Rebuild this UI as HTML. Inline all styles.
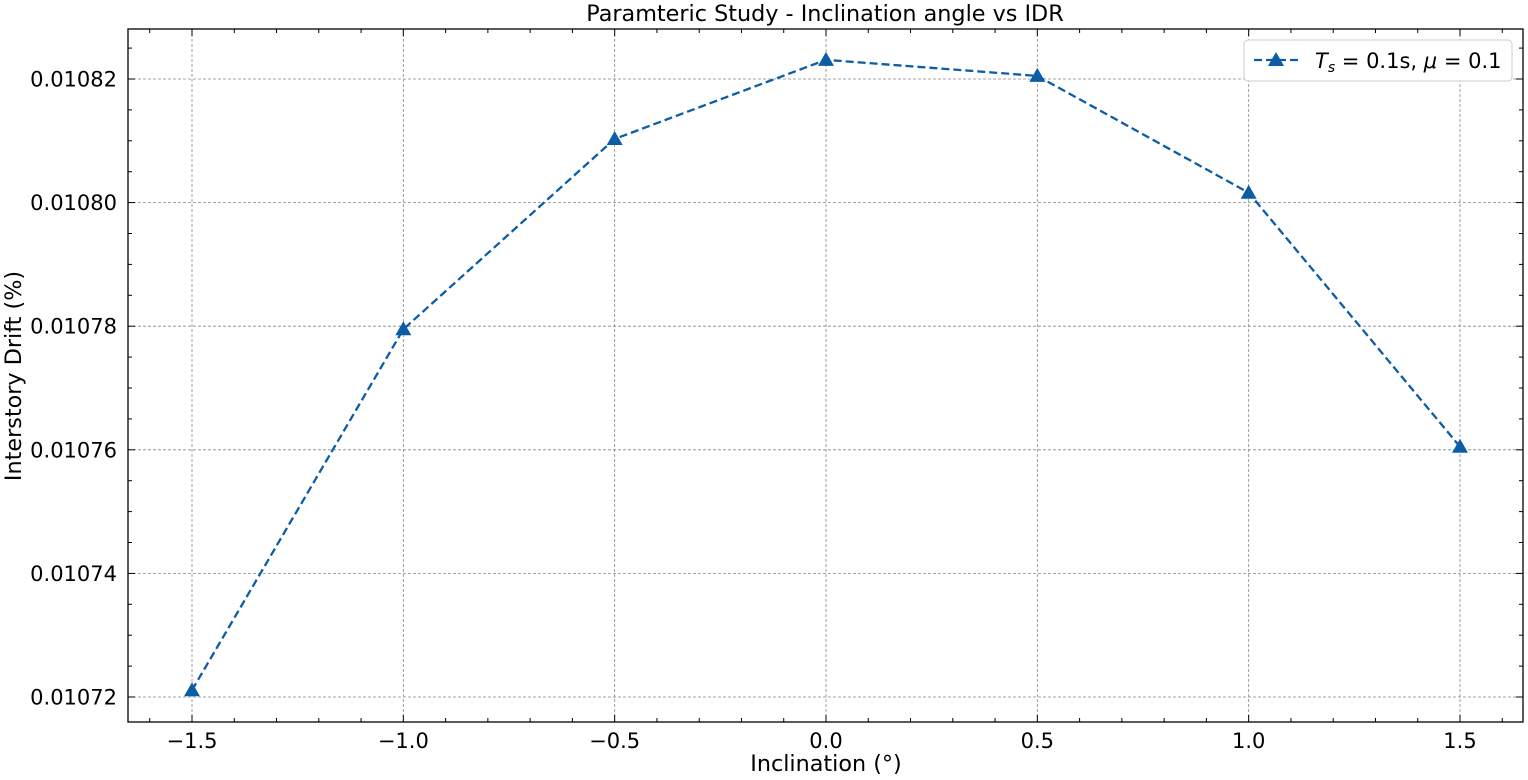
<!DOCTYPE html>
<html><head><meta charset="utf-8"><style>body{margin:0;background:#fff}svg{display:block;font-family:"DejaVu Sans","Liberation Sans",sans-serif}</style></head>
<body>
<svg id="c" width="1528" height="780"></svg>
<script>
const categories=[-1.5,-1.0,-0.5,0.0,0.5,1.0,1.5];
const idrValues=[0.0107211,0.0107795,0.0108103,0.0108231,0.0108205,0.0108016,0.0107605];
const xTickLabels=["\u22121.5","\u22121.0","\u22120.5","0.0","0.5","1.0","1.5"];
const xTickValues=[-1.5,-1.0,-0.5,0.0,0.5,1.0,1.5];
const yTickValues=[0.01072,0.01074,0.01076,0.01078,0.01080,0.01082];
const yTickLabels=["0.01072","0.01074","0.01076","0.01078","0.01080","0.01082"];
const L=128,R=1523,T=29,B=722;
const xs=v=>192+(v+1.5)*(1460-192)/3;
const ys=v=>697-(v-0.01072)*(697-79)/0.0001;
const s=document.getElementById('c');const NS='http://www.w3.org/2000/svg';
function mk(t,a,p){const e=document.createElementNS(NS,t);for(const k in a)e.setAttribute(k,a[k]);(p||s).appendChild(e);return e;}
const g=mk('g',{});


xTickValues.forEach(v=>mk('line',{x1:xs(v),x2:xs(v),y1:T,y2:B,stroke:'#888','stroke-width':0.8,'stroke-dasharray':'3,2'},g));
yTickValues.forEach(v=>mk('line',{x1:L,x2:R,y1:ys(v),y2:ys(v),stroke:'#888','stroke-width':0.8,'stroke-dasharray':'3,2'},g));
for(let i=-16;i<=16;i++){const v=i/10,x=xs(v);if(x<L||x>R)continue;const maj=i%5==0,len=maj?7:4;
 mk('line',{x1:x,x2:x,y1:B,y2:B-len,stroke:'#000','stroke-width':1});mk('line',{x1:x,x2:x,y1:T,y2:T+len,stroke:'#000','stroke-width':1});}
for(let i=0;i<=26;i++){const v=0.01071+i*0.000005,y=ys(v);if(y<T||y>B)continue;const maj=Math.abs((v-0.01072)/0.00002-Math.round((v-0.01072)/0.00002))<1e-6,len=maj?7:4;
 mk('line',{x1:L,x2:L+len,y1:y,y2:y,stroke:'#000','stroke-width':1});mk('line',{x1:R,x2:R-len,y1:y,y2:y,stroke:'#000','stroke-width':1});}
const fr=mk('rect',{x:L,y:T,width:R-L,height:B-T,fill:'none',stroke:'#000','stroke-width':1.3});


xTickValues.forEach((v,i)=>{const t=mk('text',{x:xs(v),y:748,'text-anchor':'middle','font-size':21});t.textContent=xTickLabels[i];

});
yTickValues.forEach((v,i)=>{const t=mk('text',{x:117,y:ys(v)+7.5,'text-anchor':'end','font-size':21});t.textContent=yTickLabels[i];

});
const pts=categories.map((c,i)=>xs(c)+','+ys(idrValues[i])).join(' ');
const ln=mk('polyline',{points:pts,fill:'none',stroke:'#0c5da5','stroke-width':2.3,'stroke-dasharray':'8,4'});


categories.forEach((c,i)=>{const x=xs(c),y=ys(idrValues[i]);const m=mk('polygon',{points:`${x},${y-8} ${x-8},${y+6} ${x+8},${y+6}`,fill:'#0c5da5'});

});
const tt=mk('text',{x:825,y:21,'text-anchor':'middle','font-size':22.3});tt.textContent='Paramteric Study - Inclination angle vs IDR';


const xl=mk('text',{x:826,y:771,'text-anchor':'middle','font-size':22.3});xl.textContent='Inclination (°)';


const yl=mk('text',{x:21,y:376,'text-anchor':'middle','font-size':22.3,transform:'rotate(-90 21 376)'});yl.textContent='Interstory Drift (%)';


const lg=mk('g',{});


mk('rect',{x:1244,y:40,width:268,height:41,rx:4,fill:'#fff',stroke:'#ccc','stroke-width':1},lg);
mk('line',{x1:1254,x2:1298,y1:60,y2:60,stroke:'#0c5da5','stroke-width':2.3,'stroke-dasharray':'8,4'},lg);
mk('polygon',{points:'1276,52 1268,66 1284,66',fill:'#0c5da5'},lg);
const lt=mk('text',{x:1315,y:68,'font-size':21},lg);
lt.innerHTML='<tspan font-style="italic">T</tspan><tspan font-style="italic" font-size="14" dy="4">s</tspan><tspan dy="-4"> = 0.1s, </tspan><tspan font-style="italic">μ</tspan><tspan> = 0.1</tspan>';
</script>
</body></html>
